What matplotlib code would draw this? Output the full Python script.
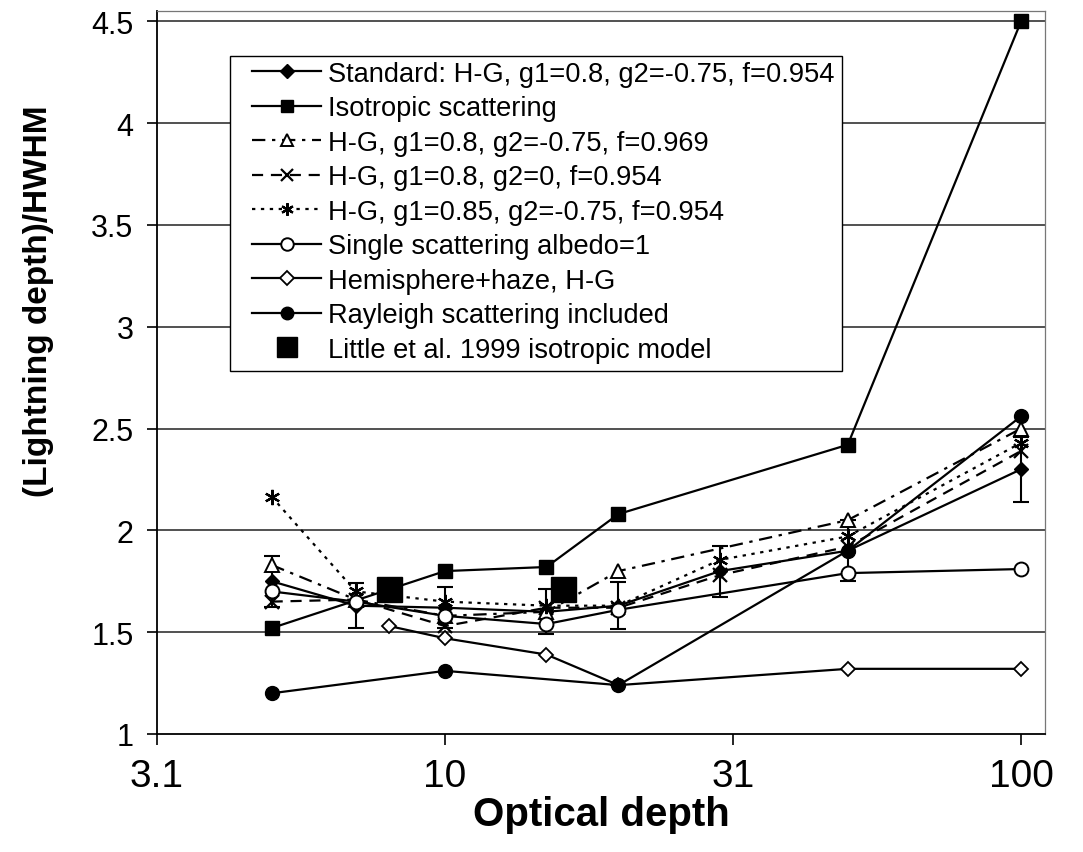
import matplotlib
matplotlib.use("Agg")
import matplotlib.pyplot as plt
from matplotlib.patches import Rectangle
import numpy as np

# ---- data ----
x_std = [5, 7, 10, 15, 20, 30, 50, 100]
y_std = [1.75, 1.63, 1.62, 1.60, 1.63, 1.80, 1.90, 2.30]
err_std = [0.125, 0.11, 0.10, 0.11, 0.115, 0.125, 0.15, 0.16]

x_iso = [5, 10, 15, 20, 50, 100]
y_iso = [1.52, 1.80, 1.82, 2.08, 2.42, 4.50]

x_f969 = [5, 7, 10, 15, 20, 50, 100]
y_f969 = [1.83, 1.66, 1.58, 1.60, 1.80, 2.05, 2.50]

x_g20 = [5, 7, 10, 15, 20, 30, 50, 100]
y_g20 = [1.65, 1.66, 1.53, 1.62, 1.62, 1.78, 1.92, 2.39]

x_g85 = [5, 7, 10, 15, 20, 30, 50, 100]
y_g85 = [2.165, 1.70, 1.65, 1.63, 1.63, 1.855, 1.97, 2.43]

x_alb = [5, 7, 10, 15, 20, 50, 100]
y_alb = [1.70, 1.65, 1.58, 1.54, 1.61, 1.79, 1.81]

x_hemi = [8, 10, 15, 20, 50, 100]
y_hemi = [1.53, 1.47, 1.39, 1.24, 1.32, 1.32]

x_ray = [5, 10, 20, 50, 100]
y_ray = [1.20, 1.31, 1.24, 1.90, 2.56]

x_little = [8, 16]
y_little = [1.71, 1.71]

labels = [
    "Standard: H-G, g1=0.8, g2=-0.75, f=0.954",
    "Isotropic scattering",
    "H-G, g1=0.8, g2=-0.75, f=0.969",
    "H-G, g1=0.8, g2=0, f=0.954",
    "H-G, g1=0.85, g2=-0.75, f=0.954",
    "Single scattering albedo=1",
    "Hemisphere+haze, H-G",
    "Rayleigh scattering included",
    "Little et al. 1999 isotropic model",
]

xticks = [10 ** 0.5, 10, 10 ** 1.5, 100]
xticklabels = ["3.1", "10", "31", "100"]
yticks = [1, 1.5, 2, 2.5, 3, 3.5, 4, 4.5]
yticklabels = ["1", "1.5", "2", "2.5", "3", "3.5", "4", "4.5"]

# ---- figure ----
W, H = 1083, 853
fig = plt.figure(figsize=(W / 100, H / 100), dpi=100)
ax = fig.add_axes([157 / W, 1 - 735 / H, 888 / W, 723 / H])
ax.set_xscale("log")
ax.set_xlim(10 ** 0.5, 110)
ax.set_ylim(1, 4.55)

for yv in yticks[1:]:
    ax.axhline(yv, color="#222222", lw=1.1, zorder=1)

lw = 1.6
k = "black"
ax.errorbar(x_std, y_std, yerr=err_std, fmt="none", ecolor=k, capsize=6,
            elinewidth=1.5, capthick=1.5, zorder=3)
h_std, = ax.plot(x_std, y_std, color=k, lw=lw, marker="D", ms=7, mfc=k, mec=k,
                 zorder=3, label=labels[0])
h_iso, = ax.plot(x_iso, y_iso, color=k, lw=lw, marker="s", ms=10, mfc=k, mec=k,
                 zorder=3, label=labels[1])
h_969, = ax.plot(x_f969, y_f969, color=k, lw=lw, dashes=(6, 3, 1.5, 3), marker="^",
                 ms=10, mfc="white", mec=k, mew=1.4, zorder=3, label=labels[2])
h_g20, = ax.plot(x_g20, y_g20, color=k, lw=lw, dashes=(5, 3.5), marker="x",
                 ms=10, mec=k, mew=1.6, zorder=3, label=labels[3])
h_g85, = ax.plot(x_g85, y_g85, color=k, lw=lw, dashes=(1.5, 2.5), marker=(6, 2, 0),
                 ms=11, mec=k, mew=1.6, zorder=3, label=labels[4])
h_alb, = ax.plot(x_alb, y_alb, color=k, lw=lw, marker="o", ms=10, mfc="white",
                 mec=k, mew=1.4, zorder=3, label=labels[5])
h_hemi, = ax.plot(x_hemi, y_hemi, color=k, lw=lw, marker="D", ms=7, mfc="white",
                  mec=k, mew=1.3, zorder=3, label=labels[6])
h_ray, = ax.plot(x_ray, y_ray, color=k, lw=lw, marker="o", ms=10, mfc=k, mec=k,
                 zorder=3, label=labels[7])
h_lit, = ax.plot(x_little, y_little, ls="none", marker="s", ms=18, mfc=k, mec=k,
                 zorder=4, label=labels[8])

# axes styling
ax.set_xticks(xticks)
ax.set_xticklabels(xticklabels, family="Liberation Sans", fontsize=28)
ax.xaxis.set_minor_locator(matplotlib.ticker.NullLocator())
ax.set_yticks(yticks)
ax.set_yticklabels(yticklabels, family="Liberation Sans", fontsize=22)
ax.tick_params(axis="y", direction="out", length=7, width=1.2, pad=10)
ax.tick_params(axis="x", direction="out", length=8, width=1.2, pad=9)
for s in ["left", "bottom"]:
    ax.spines[s].set_color("black")
    ax.spines[s].set_linewidth(1.3)
for s in ["top", "right"]:
    ax.spines[s].set_color("#777777")
    ax.spines[s].set_linewidth(0.9)

ax.set_xlabel("Optical depth", family="Liberation Sans",
              fontsize=29, fontweight="bold", labelpad=1)
ax.set_ylabel("(Lightning depth)/HWHM", family="Liberation Sans",
              fontsize=24, fontweight="bold")
ax.yaxis.set_label_coords(-0.116, 0.60)

# legend with a manual frame
rect = Rectangle((230 / W, 1 - 372 / H), 612 / W, 315 / H, transform=fig.transFigure,
                 facecolor="white", edgecolor="black", lw=1.0, zorder=5)
ax.add_patch(rect)
rect.set_clip_on(False)
leg = ax.legend(handles=[h_std, h_iso, h_969, h_g20, h_g85, h_alb, h_hemi, h_ray, h_lit],
                loc="upper left", bbox_to_anchor=(252 / W, 1 - 62 / H),
                bbox_transform=fig.transFigure, frameon=False, borderpad=0,
                prop={"family": "Liberation Sans", "size": 19.6}, handlelength=2.55,
                handletextpad=0.25, labelspacing=0.31, numpoints=1, borderaxespad=0)
leg.set_zorder(6)
for lh in leg.legend_handles:
    ms = lh.get_markersize()
    lh.set_markersize(min(ms, 9) if ms < 15 else 14)

fig.savefig("out.png", dpi=100)
